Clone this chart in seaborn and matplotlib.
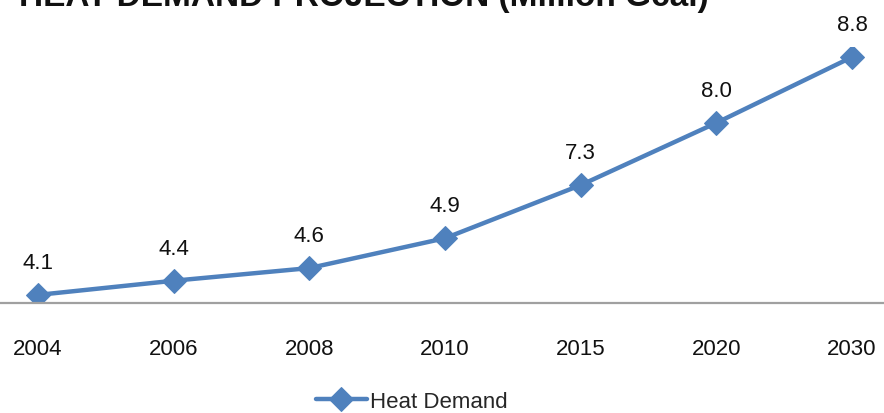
import pandas as pd
import numpy as np
import matplotlib.pyplot as plt
import seaborn as sns

years = ['2004', '2006', '2008', '2010', '2015', '2020', '2030']
# line heights as drawn in the picture (the chart's own scale)
heat_demand = [4.10, 4.38, 4.63, 5.22, 6.27, 7.50, 8.80]
# data labels as printed on the chart
point_labels = ['4.1', '4.4', '4.6', '4.9', '7.3', '8.0', '8.8']
series_name = 'Heat Demand'
title = 'HEAT DEMAND PROJECTION (Million Gcal)'

sns.set_style('white')
plt.rcParams['font.family'] = ['Liberation Sans', 'DejaVu Sans']

df = pd.DataFrame({'year': years, 'value': heat_demand, 'series': series_name})
blue = '#4F81BD'

fig = plt.figure(figsize=(8.84, 4.14), dpi=100)
ax = fig.add_axes([0, 0.2657, 1, 0.6184])
sns.lineplot(data=df, x='year', y='value', hue='series', palette=[blue], sort=False,
             marker='D', markersize=12, linewidth=3.2, markeredgecolor=blue, ax=ax)

for i, (v, txt) in enumerate(zip(heat_demand, point_labels)):
    ax.annotate(txt, (i, v), xytext=(0, 16), textcoords='offset points',
                ha='center', va='bottom', fontsize=16, color='#111111')

ax.set_xlim(-0.28, 6.236)
ax.set_ylim(3.94, 9.0)
ax.set_yticks([])
ax.set_xlabel('')
ax.set_ylabel('')
ax.tick_params(axis='x', length=0, pad=25, labelsize=16, labelcolor='#111111')
for s in ['top', 'left', 'right']:
    ax.spines[s].set_visible(False)
ax.spines['bottom'].set_color('#a0a0a0')
ax.spines['bottom'].set_linewidth(1.6)
ax.patch.set_alpha(0)

leg = ax.legend(loc='center', bbox_to_anchor=(0.466, -0.385), frameon=False,
                fontsize=16, handlelength=2.3, handletextpad=0.15)
for line in leg.get_lines():
    line.set_linewidth(3.2)
    line.set_markersize(12)

fig.text(0.022, 1 - 6 / 414, title, fontsize=24, fontweight='bold', ha='left',
         va='baseline', color='#111111')

fig.savefig('out.png', dpi=100)
